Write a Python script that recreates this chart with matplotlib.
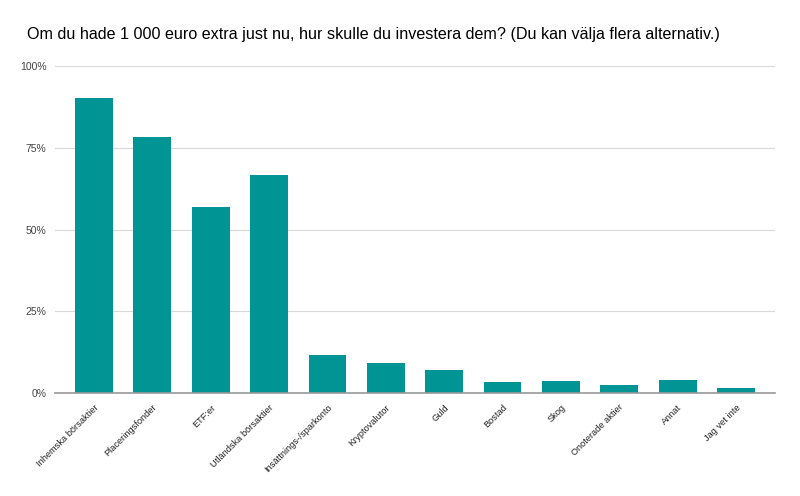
import matplotlib.pyplot as plt
from matplotlib.ticker import PercentFormatter

plt.rcParams['font.family'] = ['Liberation Sans', 'DejaVu Sans']

categories = ["Inhemska börsaktier", "Placeringsfonder", "ETF:er", "Utländska börsaktier",
              "Insättnings-/sparkonto", "Kryptovalutor", "Guld", "Bostad", "Skog",
              "Onoterade aktier", "Annat", "Jag vet inte"]
values = [90.2, 78.3, 56.9, 66.7, 11.6, 9.2, 6.9, 3.5, 3.8, 2.3, 4.0, 1.5]
title = "Om du hade 1 000 euro extra just nu, hur skulle du investera dem? (Du kan välja flera alternativ.)"

fig = plt.figure(figsize=(8, 4.96), dpi=100)
ax = fig.add_axes([55 / 800, 1 - 393 / 496, 720 / 800, 327 / 496])

x = range(len(categories))
ax.bar(x, values, width=0.65, color="#009494", zorder=3)

ax.set_ylim(0, 100)
ax.set_xlim(-0.67, len(categories) - 0.33)
ax.set_yticks([0, 25, 50, 75, 100])
ax.yaxis.set_major_formatter(PercentFormatter(decimals=0))
ax.grid(axis="y", color="#d9d9d9", linewidth=0.8, zorder=0)

ax.set_xticks(list(x))
ax.set_xticklabels(categories, rotation=45, ha="right", rotation_mode="anchor",
                   fontsize=6.7, color="#222222")
ax.tick_params(axis="x", length=0, pad=7)
ax.tick_params(axis="y", length=0, labelsize=7.5, labelcolor="#444444", pad=6)

for side in ["top", "right", "left"]:
    ax.spines[side].set_visible(False)
ax.spines["bottom"].set_color("#999999")
ax.spines["bottom"].set_linewidth(1.2)
ax.spines["bottom"].set_zorder(4)

fig.text(27 / 800, 1 - 35 / 496, title, fontsize=11.65, va="center", ha="left", color="#000000")

fig.savefig("out.png", dpi=100)
